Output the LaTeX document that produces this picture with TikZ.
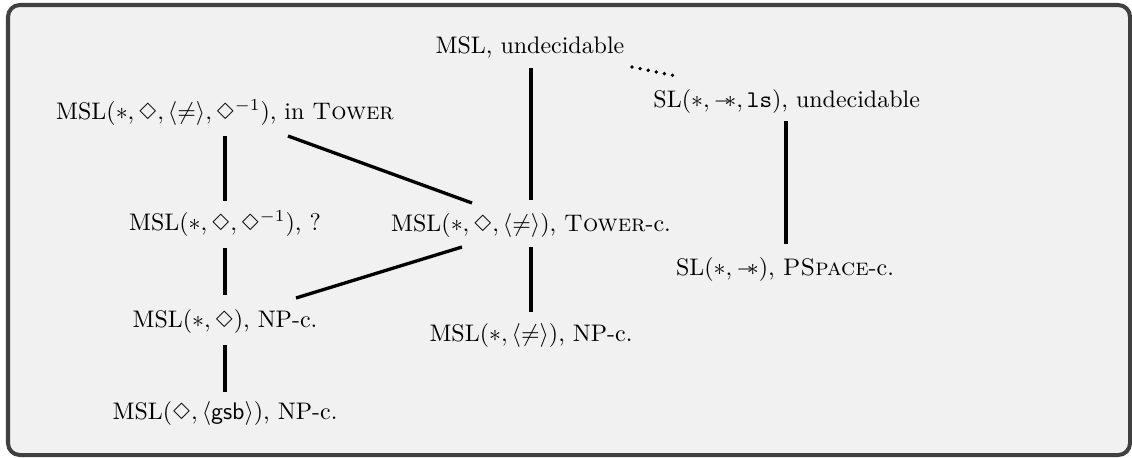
\RequirePackage{fix-cm}
\documentclass[tikz,border=0pt]{standalone}
\usepackage{latexsym}
\usetikzlibrary{calc}
\definecolor{framegray}{HTML}{404040}
\definecolor{bggray}{HTML}{F1F1F1}
\newcommand{\wand}{\mathrel{-\!\!*}}
\begin{document}
\begin{tikzpicture}[x=0.4237pt,y=-0.4237pt,
  lbl/.style={inner sep=0pt,anchor=base,font=\fontsize{10.15pt}{12pt}\selectfont},
  conn/.style={line width=1.4pt,black},
  dots/.style={line width=1.6pt,black,line cap=round,dash pattern=on 0pt off 3.5pt}]
\useasboundingbox (0,0) rectangle (1132,457);
\draw[framegray,line width=1.7pt,fill=bggray,rounded corners=5pt] (8,5) rectangle (1130,455);
\node[lbl] (U) at (530,53) {MSL, undecidable};
\node[lbl] (T) at (225,119) {MSL$(*,\Diamond,\langle\neq\rangle,\Diamond^{-1})$, in \textsc{Tower}};
\node[lbl,anchor=base west] (S) at (653,107) {SL$(*,\wand,\texttt{ls})$, undecidable};
\node[lbl] (Q) at (225,230) {MSL$(*,\Diamond,\Diamond^{-1})$, ?};
\node[lbl] (C) at (531,231) {MSL$(*,\Diamond,\langle\neq\rangle)$, \textsc{Tower}-c.};
\node[lbl] (P) at (785,275) {SL$(*,\wand)$, \textsc{PSpace}-c.};
\node[lbl] (N) at (225,327) {MSL$(*,\Diamond)$, NP-c.};
\node[lbl] (D) at (531,341) {MSL$(*,\langle\neq\rangle)$, NP-c.};
\node[lbl] (G) at (225,419) {MSL$(\Diamond,\langle\textsf{gsb}\rangle)$, NP-c.};
\draw[conn] ($(T.base)+(0,17)$) -- ($(Q.base)+(0,-29)$);
\draw[conn] ($(Q.base)+(0,18)$) -- ($(N.base)+(0,-32)$);
\draw[conn] ($(N.base)+(0,18)$) -- ($(G.base)+(0,-27)$);
\draw[conn] ($(T.base)+(63,17)$) -- ($(C.base)+(-59,-28)$);
\draw[conn] ($(N.base)+(71,-29)$) -- ($(C.base)+(-69,16)$);
\draw[conn] ($(U.base)+(1,15)$) -- ($(C.base)+(0,-31)$);
\draw[conn] ($(C.base)+(0,16)$) -- ($(D.base)+(0,-29)$);
\draw[conn] ($(S.base west)+(133,14)$) -- ($(P.base)+(1,-31)$);
\draw[dots] ($(U.base)+(102,14)$) -- ($(S.base west)+(23,-31)$);
\end{tikzpicture}
\end{document}
